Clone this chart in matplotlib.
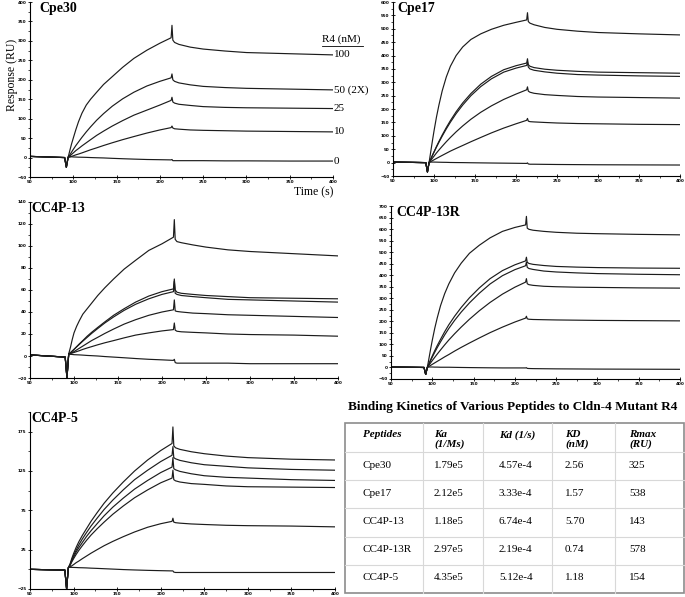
import matplotlib.pyplot as plt
from matplotlib.ticker import MultipleLocator
from matplotlib.lines import Line2D
import numpy as np

plt.rcParams['font.family'] = ['Liberation Serif', 'DejaVu Serif']

# time points (s)
T = [50, 90, 92, 94, 96, 98, 100, 103, 106, 110, 115, 120, 127, 135, 145,
     157, 170, 185, 200, 213, 214, 215, 217, 222, 235, 250, 275, 300, 350, 400]

# Cpe30 : 100, 50 (2X), 25, 10, 0 nM
cpe30 = [
    [3, 0, -25, 0, 18, 35, 50, 72, 92, 114, 135, 150, 168, 188, 208, 232, 255, 276, 294, 308, 340, 302, 296, 291, 284, 279, 274, 270, 267, 264],
    [3, 0, -25, 0, 7, 14, 21, 31, 40, 52, 66, 79, 96, 113, 132, 151, 168, 184, 196, 205, 215, 200, 196, 192, 187, 183, 180, 178, 176, 174],
    [3, 0, -25, 0, 4, 8, 12, 18, 23, 30, 38, 46, 57, 68, 81, 95, 109, 122, 135, 147, 155, 143, 140, 137, 134, 131, 129, 128, 127, 126],
    [3, 0, -25, 0, 1.5, 3, 4.5, 7, 9, 12, 16, 20, 25, 31, 38, 46, 54, 63, 71, 77, 81, 76, 74, 73, 71, 70, 69, 68, 67, 66],
    [3, 0, -25, 2, 2, 2, 1.5, 1.3, 1, 0.8, 0.5, 0, -0.5, -1, -2, -3, -4, -5, -5.5, -6, -5, -8, -8, -8, -8, -8, -8.5, -8.5, -9, -9],
]
cpe30_labels = ["100", "50 (2X)", "25", "10", "0"]

cpe17 = [
    [2, 0, -35, 0, 40, 80, 118, 170, 215, 268, 320, 360, 400, 432, 460, 481, 498, 513, 524, 533, 560, 527, 521, 515, 505, 498, 491, 486, 481, 477],
    [2, 0, -35, 0, 13, 27, 40, 60, 79, 103, 131, 157, 190, 223, 258, 293, 322, 347, 362, 372, 388, 366, 360, 355, 349, 345, 341, 338, 336, 334],
    [2, 0, -35, 0, 13, 26, 39, 58, 76, 99, 126, 151, 183, 215, 250, 284, 313, 338, 353, 363, 375, 357, 350, 345, 339, 334, 329, 327, 324, 322],
    [2, 0, -35, 0, 8, 16, 24, 36, 47, 61, 78, 94, 115, 137, 162, 188, 212, 236, 256, 272, 283, 267, 263, 259, 254, 251, 247, 245, 243, 241],
    [2, 0, -35, 0, 3.5, 7, 10.5, 15.5, 20.5, 27, 35, 43, 53, 64, 78, 94, 111, 129, 145, 158, 165, 155, 153, 152, 150, 148, 146, 145, 143, 142],
    [2, 0, -35, 2, 2, 2, 2, 1.8, 1.5, 1.2, 1, 0.5, 0.2, 0, -0.5, -1, -1.5, -2, -2.5, -3, -1, -5, -6, -6, -6.5, -7, -7.5, -8, -8.5, -9],
]

cc4p13 = [
    [1, -1, -20, 2, 8, 15, 21, 27, 32, 38, 43, 48, 55, 62, 70, 79, 87, 96, 102, 108, 124, 106, 104, 103, 101, 99, 96.5, 95, 93, 91],
    [1, -1, -20, 2, 3, 4.5, 6, 8.5, 11, 14, 18, 21.5, 26, 31, 37, 43, 49, 54.5, 58.5, 61, 70, 60, 58, 57, 56, 55, 54, 53, 52.5, 52],
    [1, -1, -20, 2, 3, 4.5, 6, 8.3, 10.5, 13.5, 17, 20.5, 25, 30, 35.5, 41.5, 47, 52, 56, 58.5, 68, 57, 56, 55, 54, 53, 51.5, 51, 50, 49],
    [1, -1, -20, 2, 2.5, 3.2, 4, 5.5, 7, 9, 11.5, 14, 17, 20.5, 24.5, 29, 33, 37, 40, 42, 51, 41, 40.5, 40, 39, 38.5, 37.5, 37, 36, 35],
    [1, -1, -20, 2, 2.3, 2.7, 3.2, 4, 4.8, 6, 7.3, 8.5, 10.2, 12, 14, 16.5, 19, 21, 22.8, 24, 30, 23.5, 22.5, 22, 21.5, 21, 20, 19.5, 19, 18],
    [1, -1, -20, 1.5, 1.5, 1.4, 1.2, 1.1, 1, 0.8, 0.5, 0.3, 0, -0.5, -1, -1.6, -2.3, -3, -3.5, -4, -3, -6, -6.5, -6.5, -6.5, -6.5, -6.5, -7, -7, -7],
]

cc4p13r = [
    [2, 0, -30, 0, 40, 80, 118, 170, 215, 268, 320, 362, 410, 452, 495, 530, 562, 590, 607, 618, 655, 604, 599, 595, 590, 586, 582, 580, 577, 575],
    [2, 0, -30, 0, 17, 34, 50, 73, 95, 122, 155, 185, 222, 260, 302, 345, 385, 420, 445, 462, 478, 456, 451, 447, 442, 438, 435, 433, 431, 430],
    [2, 0, -30, 0, 15, 30, 45, 66, 86, 111, 141, 169, 204, 240, 280, 322, 362, 398, 424, 441, 457, 434, 429, 425, 418, 414, 410, 407, 404, 402],
    [2, 0, -30, 0, 10, 20, 30, 44, 58, 76, 98, 119, 146, 175, 209, 246, 282, 318, 348, 370, 385, 363, 359, 356, 352, 350, 348, 347, 345, 344],
    [2, 0, -30, 0, 4.5, 9, 13.5, 20, 26.5, 35, 46, 56, 71, 87, 106, 128, 151, 175, 197, 214, 222, 211, 209, 208, 207, 206, 205, 204, 203, 202],
    [2, 0, -30, 2, 2, 2, 2, 1.5, 1.5, 1, 1, 1, 0.5, 0, -0.5, -1, -1.5, -2, -2, -2, -1, -4, -4.5, -5, -5.5, -6, -6.5, -7, -7.5, -8],
]

cc4p5 = [
    [0, -1, -25, 2, 7, 14, 20, 28, 35, 43, 52, 61, 72, 84, 97, 111, 125, 139, 151, 160, 181, 157, 154.5, 152.5, 149.5, 147, 144, 142, 140, 139],
    [0, -1, -25, 2, 6, 12, 17.5, 24.5, 31, 38.5, 47, 55, 65, 76, 88, 101, 114, 126, 137, 145, 156, 142, 140.5, 138.5, 135.5, 133, 131, 129, 127, 126],
    [0, -1, -25, 2, 5.5, 11, 15.5, 22, 27.5, 34, 42, 49, 58, 68, 79, 90.5, 102, 113, 123, 130, 142, 128, 126.5, 124.5, 121.5, 119, 117, 116, 114, 113],
    [0, -1, -25, 2, 5, 9.5, 13.5, 19, 24, 30, 37, 43.5, 51.5, 60, 70, 80.5, 91, 101, 110, 116, 126, 114, 112.5, 111, 109, 108, 106, 105, 104.5, 104],
    [0, -1, -25, 2, 3, 4.5, 6, 8.5, 10.5, 13.5, 17, 20.5, 25, 30, 35.5, 41.5, 47.5, 53.5, 58, 61, 65, 60, 59.3, 58.7, 57.7, 57, 56, 55.5, 55, 54],
    [0, -1, -25, 2.5, 2.5, 2.5, 2.4, 2.3, 2.1, 2, 1.8, 1.5, 1.2, 0.8, 0.3, -0.3, -0.8, -1.3, -1.7, -2, -2, -3.5, -4, -4, -4, -4, -4, -4, -4, -4],
]

# table
tab_title = "Binding Kinetics of Various Peptides to Cldn-4 Mutant R4"
tab_header = ["Peptides", "Ka\n(1/Ms)", "Kd (1/s)", "KD\n(nM)", "Rmax\n(RU)"]
peptides = ["Cpe30", "Cpe17", "CC4P-13", "CC4P-13R", "CC4P-5"]
ka = ["1.79e5", "2.12e5", "1.18e5", "2.97e5", "4.35e5"]
kd = ["4.57e-4", "3.33e-4", "6.74e-4", "2.19e-4", "5.12e-4"]
KD = ["2.56", "1.57", "5.70", "0.74", "1.18"]
rmax = ["325", "538", "143", "578", "154"]

W, H = 685, 597
fig = plt.figure(figsize=(W / 100, H / 100), dpi=100)


def rect(l, t, r, b):
    return [l / W, 1 - b / H, (r - l) / W, (b - t) / H]


def panel(box, curves, name, name_x, ylim, yt, ym):
    ax = fig.add_axes(rect(*box))
    for c in curves:
        ax.plot(T, c, color="#1c1c1c", lw=0.85)
    ax.set_xlim(50, 400)
    ax.set_ylim(*ylim)
    ax.set_xticks(np.arange(50, 401, 50))
    ax.xaxis.set_minor_locator(MultipleLocator(25))
    ax.set_yticks(yt)
    ax.set_yticks(ym, minor=True)
    for s in ["top", "right"]:
        ax.spines[s].set_visible(False)
    ax.spines["left"].set_linewidth(0.8)
    ax.spines["bottom"].set_linewidth(0.8)
    ax.tick_params(which="major", direction="inout", length=3, width=0.6,
                   labelsize=3, pad=1)
    ax.tick_params(which="minor", direction="out", length=1.5, width=0.5)
    for lab in ax.get_xticklabels() + ax.get_yticklabels():
        lab.set_fontweight("bold")
        lab.set_family("DejaVu Sans")
    ax.text(name_x, 1.0, name, transform=ax.transAxes, fontsize=10,
            fontweight="bold", va="top", ha="left")
    return ax


ax1 = panel((30, 2, 333, 177), cpe30, "Cpe30", 0.03, (-50, 400),
            np.arange(-50, 401, 50), np.arange(-25, 400, 50))
ax2 = panel((393, 2, 680, 176), cpe17, "Cpe17", 0.014, (-50, 600),
            np.arange(-50, 601, 50), np.arange(-25, 600, 50))
ax3 = panel((30, 202, 338, 378), cc4p13, "CC4P-13", 0.006, (-20, 140),
            np.arange(-20, 141, 20), np.arange(-10, 140, 20))
ax4 = panel((391, 206, 680, 379), cc4p13r, "CC4P-13R", 0.02, (-50, 700),
            np.arange(-50, 701, 50), np.arange(-25, 700, 50))
ax5 = panel((30, 412, 335, 589), cc4p5, "CC4P-5", 0.006, (-25, 200),
            np.arange(-25, 200, 50), np.arange(0, 201, 50))

# concentration labels at curve ends
for c, lab in zip(cpe30, cpe30_labels):
    ax1.text(401, c[-1], lab, fontsize=8, va="center", ha="left", clip_on=False)
ax1.text(0.964, 0.79, "R4 (nM)", transform=ax1.transAxes, fontsize=8,
         va="center", ha="left")
ax1.plot([0.964, 1.10], [0.75, 0.75], transform=ax1.transAxes, color="black",
         lw=0.6, clip_on=False)
ax1.text(1.0, -0.087, "Time (s)", transform=ax1.transAxes, fontsize=8.5,
         ha="right", va="center")
fig.text(12 / W, 1 - 75 / H, "Response (RU)", rotation=90, fontsize=8.5,
         ha="center", va="center")

# table drawn in pixel coordinates
tx = fig.add_axes([0, 0, 1, 1])
tx.set_xlim(0, W)
tx.set_ylim(H, 0)
tx.axis("off")
tx.text(513, 407, tab_title, fontsize=9.5, fontweight="bold", ha="center",
        va="center")
col_edges = [345, 423, 483, 552, 615, 684]
col_text = [363, 434, 499, 565, 629]
row_edges = [423, 452, 480, 508, 537, 565, 593]
for x in col_edges[1:-1]:
    tx.add_line(Line2D([x, x], [row_edges[0], row_edges[-1]], color="#d8d8d8", lw=0.8))
for y in row_edges[1:-1]:
    tx.add_line(Line2D([col_edges[0], col_edges[-1]], [y, y], color="#d8d8d8", lw=0.8))
tx.add_patch(plt.Rectangle((col_edges[0], row_edges[0]), col_edges[-1] - col_edges[0],
                           row_edges[-1] - row_edges[0], fill=False,
                           edgecolor="#8c8c8c", lw=1.2))
for x, h in zip(col_text, tab_header):
    tx.text(x, 430, h, fontsize=8, fontweight="bold", fontstyle="italic",
            ha="left", va="top", linespacing=1.0)
columns = [peptides, ka, kd, KD, rmax]
for j, col in enumerate(columns):
    for i, v in enumerate(col):
        yc = (row_edges[i + 1] + row_edges[i + 2]) / 2 - 1
        tx.text(col_text[j], yc, v, fontsize=8, ha="left", va="center")

fig.savefig("out.png", dpi=100)
